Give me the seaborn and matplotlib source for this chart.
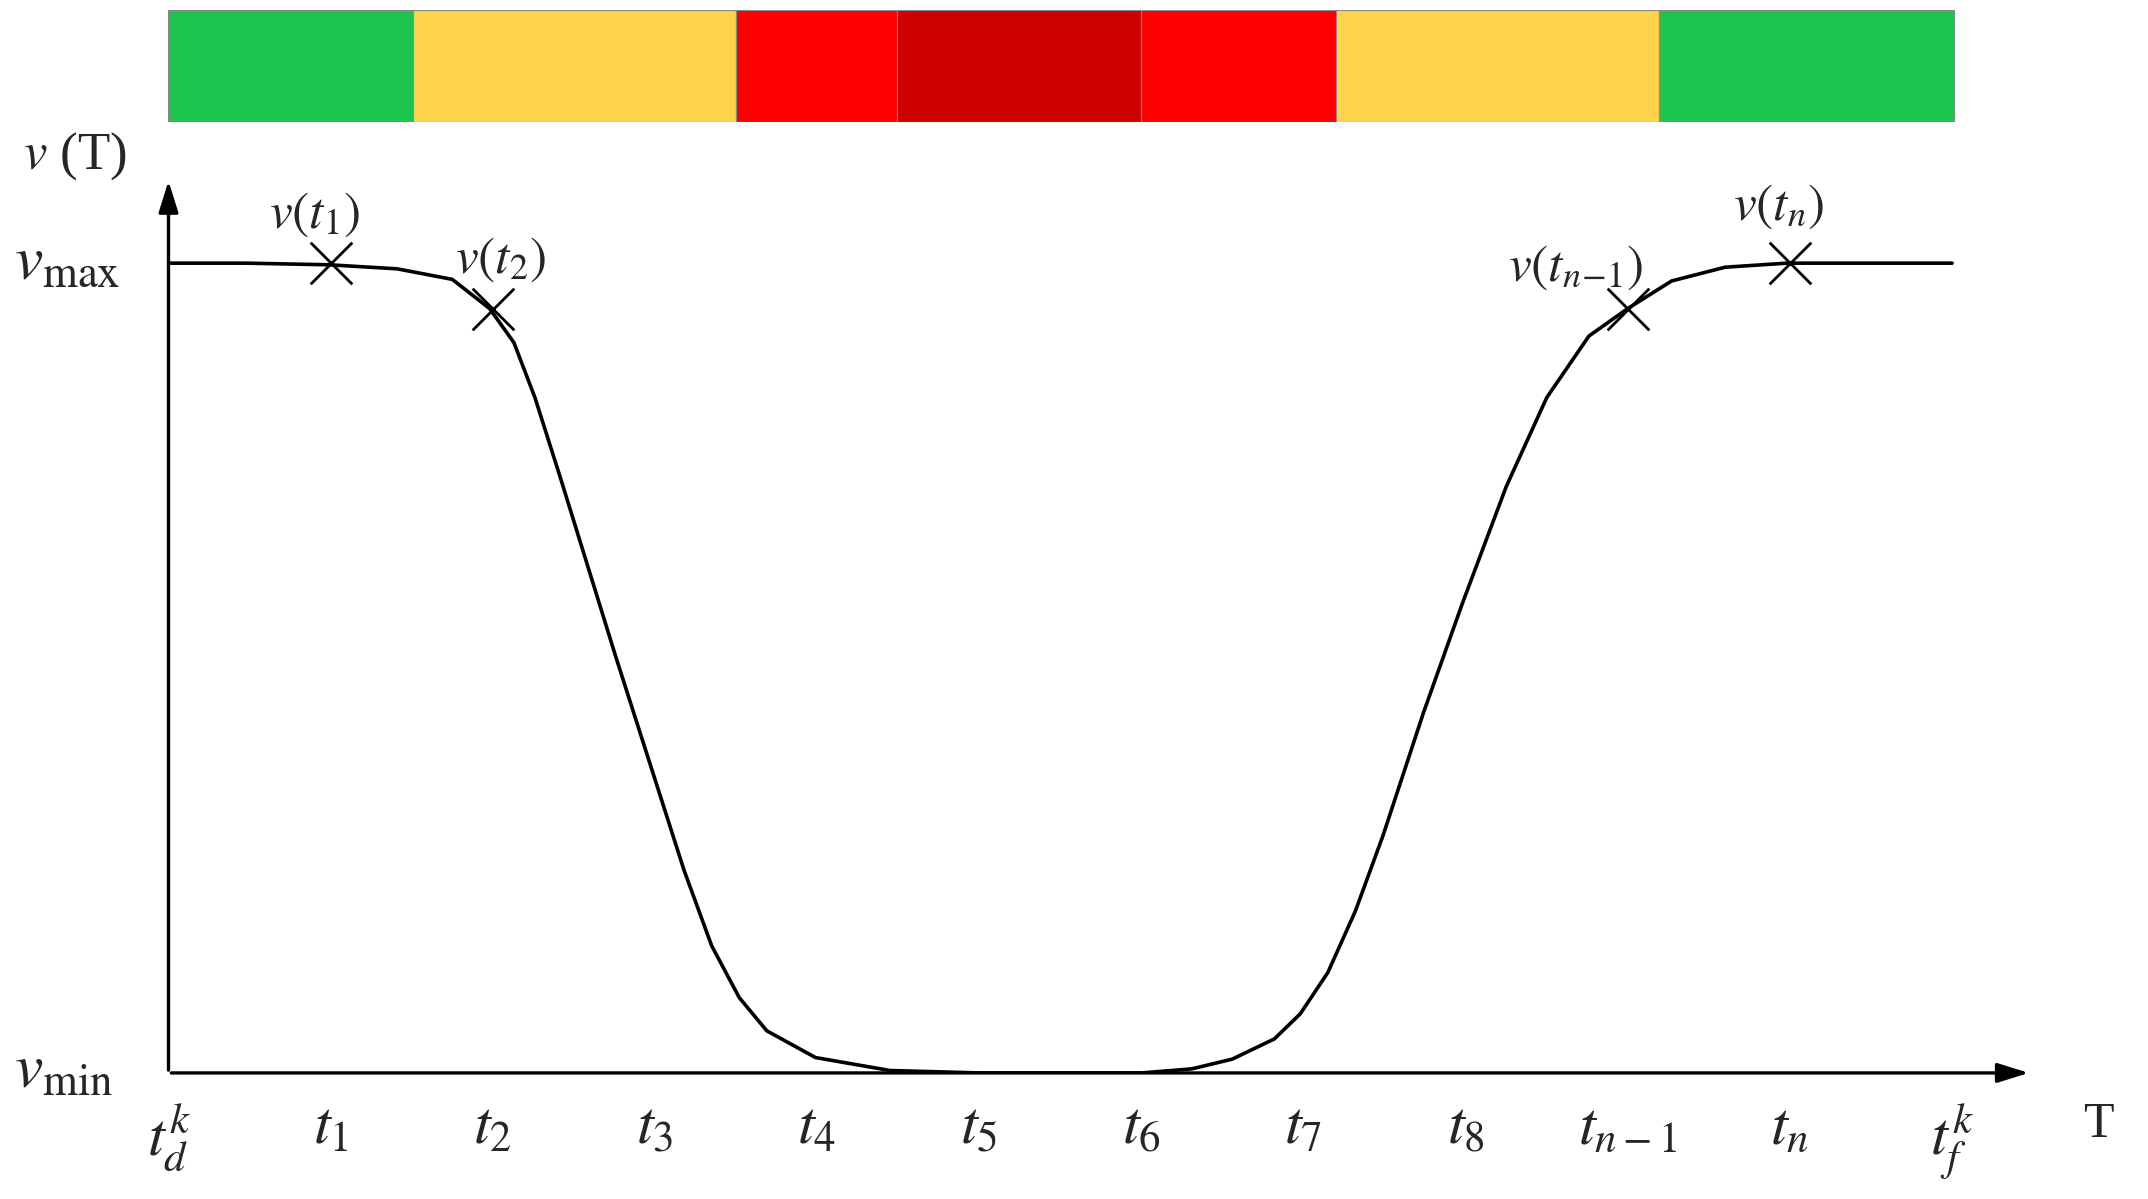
import matplotlib
matplotlib.use("Agg")
import matplotlib.pyplot as plt
import seaborn as sns
import pandas as pd

sns.set_theme(style="white")
plt.rcParams['font.family'] = ['Liberation Serif', 'DejaVu Serif']
plt.rcParams['mathtext.fontset'] = 'stix'

# curve (x in tick units, v normalised vmin=0..vmax=1)
curve_x = [0, 0.48, 0.99, 1.41, 1.75, 1.98, 2.13, 2.26, 2.42, 2.59, 2.76, 2.99, 3.18, 3.35, 3.52, 3.69,
           3.99, 4.45, 5.0, 6.0, 6.31, 6.56, 6.82, 6.98, 7.15, 7.32, 7.49, 7.74, 7.98, 8.25, 8.5, 8.76,
           9.0, 9.27, 9.6, 9.98, 11.0]
curve_v = [1.0, 1.0, 0.998, 0.993, 0.98, 0.944, 0.902, 0.834, 0.733, 0.623, 0.513, 0.369, 0.25, 0.157,
           0.093, 0.052, 0.019, 0.003, 0.0, 0.0, 0.005, 0.017, 0.042, 0.073, 0.124, 0.2, 0.293, 0.445,
           0.58, 0.724, 0.834, 0.91, 0.944, 0.978, 0.995, 1.0, 1.0]
tick_labels = [r'$t_d^k$', r'$t_1$', r'$t_2$', r'$t_3$', r'$t_4$', r'$t_5$', r'$t_6$', r'$t_7$',
               r'$t_8$', r'$t_{n-1}$', r'$t_n$', r'$t_f^k$']
mark_x = [1, 2, 9, 10]
mark_v = [1.0, 0.944, 0.944, 1.0]
mark_labels = [r'$v(t_1)$', r'$v(t_2)$', r'$v(t_{n\!-\!1})$', r'$v(t_n)$']
seg_edges = [0, 1.51, 3.5, 4.49, 6.0, 7.2, 9.19, 11.01]
seg_colors = ['#1DC54F', '#FFD24C', '#FF0000', '#CC0000', '#FF0000', '#FFD24C', '#1DC54F']

fig = plt.figure(figsize=(21.48, 11.99), dpi=100)
ax = fig.add_axes([123/1568, 1-783/875, (1483-123)/1568, (783-130)/875])
sns.lineplot(x=curve_x, y=curve_v, ax=ax, color='black', lw=2.6)
ax.set_xlim(0, 11.49)
ax.set_ylim(0, 1.105)
for s in ax.spines.values():
    s.set_visible(False)
ax.set_xticks([]); ax.set_yticks([])
ax.annotate('', xy=(11.49, 0), xytext=(0, 0), xycoords='data',
            arrowprops=dict(arrowstyle='-|>,head_length=1.6,head_width=0.5', color='black', lw=2.4),
            annotation_clip=False)
ax.annotate('', xy=(0, 1.105), xytext=(0, 0),
            arrowprops=dict(arrowstyle='-|>,head_length=1.6,head_width=0.5', color='black', lw=2.4),
            annotation_clip=False)
sns.scatterplot(x=mark_x, y=mark_v, ax=ax, marker='x', s=900, color='black', linewidth=2.0, legend=False)
offs = [(-0.1, 0.03), (0.05, 0.03), (-0.32, 0.02), (-0.07, 0.04)]
for x, v, l, (dx, dy) in zip(mark_x, mark_v, mark_labels, offs):
    ax.text(x + dx, v + dy, l, fontsize=37, ha='center', va='bottom')
for i, l in enumerate(tick_labels):
    ax.text(i, -0.035, l, fontsize=44, ha='center', va='top')
ax.text(11.9, -0.035, 'T', fontsize=36, ha='center', va='top', clip_on=False)
ax.text(-0.95, 1.0, r'$v_{\rm max}$', fontsize=46, ha='left', va='center')
ax.text(-0.95, 0.0, r'$v_{\rm min}$', fontsize=46, ha='left', va='center')
ax.text(-0.9, 1.1, r'$v$ (T)', fontsize=38, ha='left', va='bottom')

bax = fig.add_axes([123/1568, 1-89/875, (1483-123)/1568, 82/875])
lefts = seg_edges[:-1]
widths = [b - a for a, b in zip(seg_edges[:-1], seg_edges[1:])]
bax.barh([0]*len(widths), widths, left=lefts, height=1, color=seg_colors, edgecolor='#888888', linewidth=0.8)
bax.set_xlim(0, 11.49); bax.set_ylim(-0.5, 0.5)
bax.axis('off')
fig.savefig('out.png', dpi=100)
